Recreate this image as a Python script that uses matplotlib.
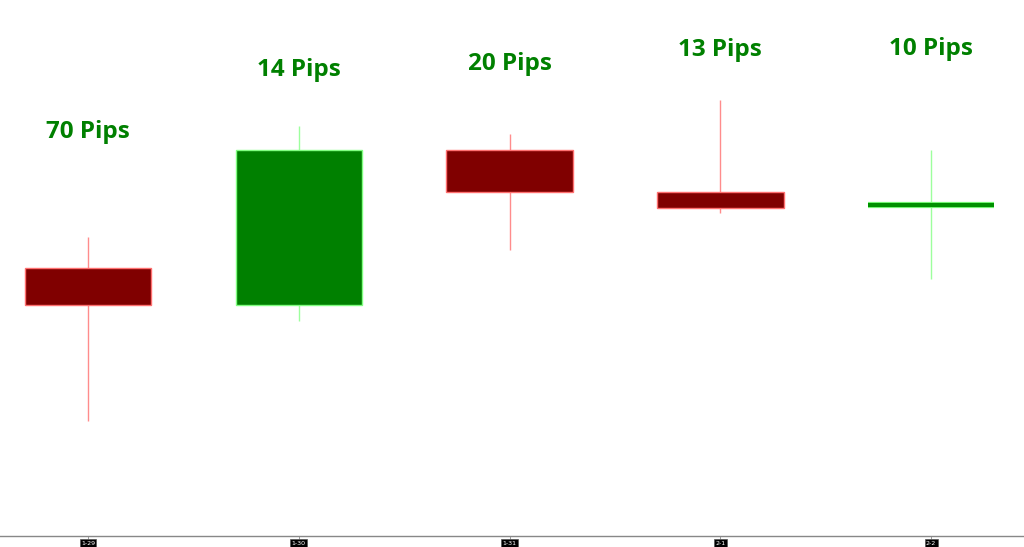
import matplotlib
matplotlib.use("Agg")
import matplotlib.pyplot as plt
from matplotlib.patches import Rectangle

# daily candles (price)
dates = ["1-29", "1-30", "1-31", "2-1", "2-2"]
opens = [1.3598, 1.3584, 1.3643, 1.3627, 1.3622]
highs = [1.3610, 1.3652, 1.3649, 1.3662, 1.3643]
lows = [1.3540, 1.3578, 1.3605, 1.3619, 1.3594]
closes = [1.3584, 1.3643, 1.3627, 1.3621, 1.3622]
pips = [70, 14, 20, 13, 10]

# vertical place of the pip labels (axes fraction)
label_pos = [0.754, 0.869, 0.880, 0.907, 0.909]

fig = plt.figure(figsize=(10.24, 5.47), dpi=100)
ax = fig.add_axes([0, 0.0201, 1, 0.9799])

w = 0.6
for i in range(len(dates)):
    o, h, l, c = opens[i], highs[i], lows[i], closes[i]
    up = c >= o
    wick = "#9dff9d" if up else "#ff8c8c"
    ax.vlines(i, l, h, color=wick, lw=1, zorder=1)
    if o == c:
        # doji
        ax.hlines(o, i - w / 2, i + w / 2, color="#80ff80", lw=4.5, zorder=2)
        ax.hlines(o, i - w / 2, i + w / 2, color="#009000", lw=3, zorder=3)
    else:
        body = Rectangle((i - w / 2, min(o, c)), w, abs(c - o),
                         facecolor="#008000" if up else "#800000",
                         edgecolor="#80ff80" if up else "#ff7070",
                         lw=1, zorder=2)
        ax.add_patch(body)
    ax.text(i, label_pos[i], f"{pips[i]} Pips", transform=ax.get_xaxis_transform(),
            ha="center", va="center", color="#008000", fontsize=17.5,
            fontweight="bold", family=["Open Sans", "DejaVu Sans"])

ax.set_xlim(-0.4176, 4.441)
ax.set_ylim(1.34962, 1.3700)

for s in ["top", "left", "right"]:
    ax.spines[s].set_visible(False)
ax.spines["bottom"].set_color("#888888")
ax.spines["bottom"].set_linewidth(1)
ax.set_yticks([])
ax.set_xticks(range(len(dates)))
ax.set_xticklabels(dates, fontsize=4.5, color="white")
ax.tick_params(axis="x", length=2, width=0.6, color="#888888", pad=1.5)
for lbl in ax.get_xticklabels():
    lbl.set_bbox(dict(facecolor="black", edgecolor="#555555", pad=1.0, lw=0.5))

fig.savefig("out.png", dpi=100)
